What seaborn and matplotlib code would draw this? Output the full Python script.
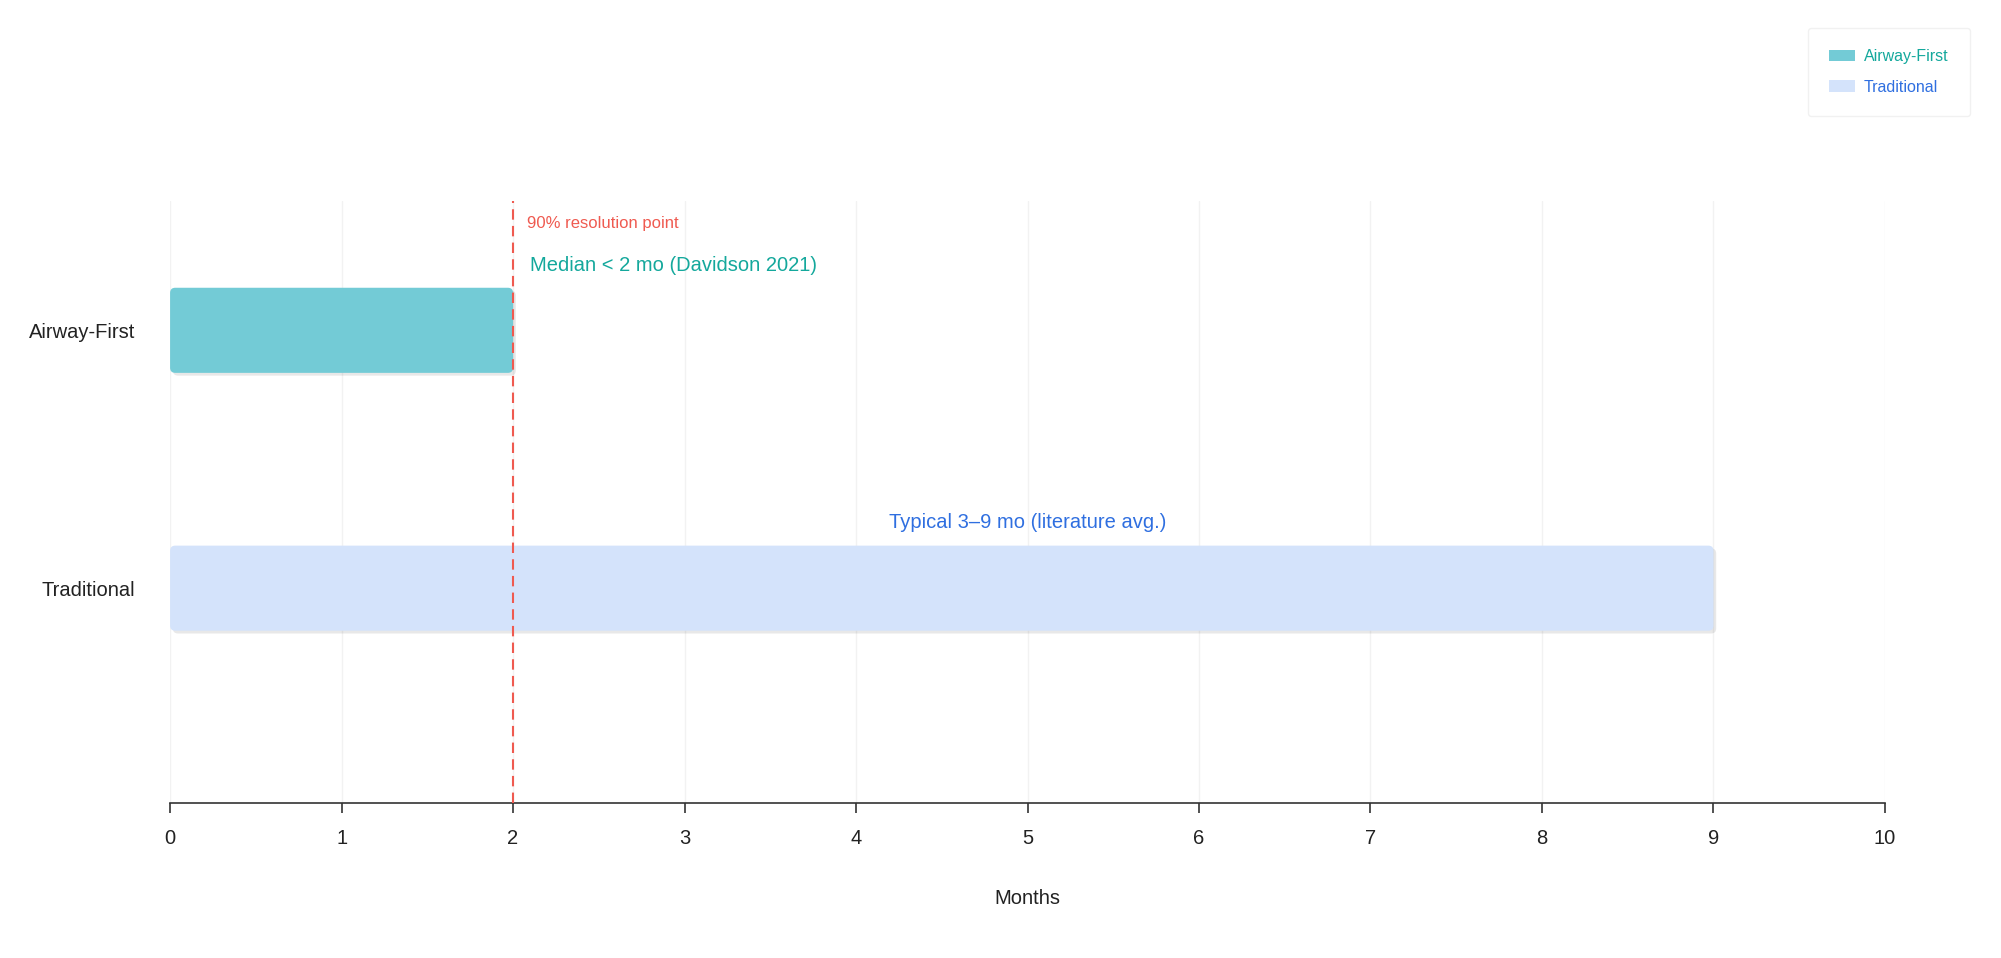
import matplotlib
matplotlib.use("Agg")
import matplotlib.pyplot as plt
import matplotlib.patheffects as pe
from matplotlib.patches import FancyBboxPatch, Patch
import pandas as pd
import seaborn as sns

# Данные
categories = ["Airway-First", "Traditional"]
months = [2, 9]
bar_colors = ["#73cbd6", "#d4e3fb"]
text_colors = ["#14a89c", "#2f6fe0"]
notes = ["Median < 2 mo (Davidson 2021)", "Typical 3\u20139 mo (literature avg.)"]
note_x = [2.1, 5.0]
marker_month = 2
marker_label = "90% resolution point"
x_ticks = list(range(0, 11))

df = pd.DataFrame({"Approach": categories, "Months": months})

sns.set_theme(style="white")
plt.rcParams["font.family"] = ["Liberation Sans", "DejaVu Sans"]

fig = plt.figure(figsize=(20.01, 9.58), dpi=100)
ax = fig.add_axes([0.085, 0.1618, 0.857, 0.628])

sns.barplot(data=df, x="Months", y="Approach", hue="Approach",
            palette=bar_colors, saturation=1, width=0.33, legend=False, ax=ax)

# скруглённые углы и тень
px_x = 0.857 * 2001 / 10
px_y = 258.0
for p in list(ax.patches):
    x0, y0 = p.get_x(), p.get_y()
    w, h = p.get_width(), p.get_height()
    fb = FancyBboxPatch((x0, y0), w, h,
                        boxstyle="round,pad=0,rounding_size=0.03",
                        mutation_aspect=px_x / px_y,
                        facecolor=p.get_facecolor(), edgecolor="none",
                        zorder=2)
    fb.set_path_effects([pe.SimplePatchShadow(offset=(2, -2), alpha=0.09,
                                              shadow_rgbFace="black"),
                         pe.Normal()])
    p.remove()
    ax.add_patch(fb)

ax.set_xlim(0, 10)
ax.set_ylim(1.833, -0.5)
ax.set_xticks(x_ticks)
ax.set_xticklabels([str(t) for t in x_ticks])
ax.grid(axis="x", color="#f2f2f2", linewidth=1)
ax.grid(axis="y", visible=False)
ax.set_axisbelow(True)

for s in ["top", "right", "left"]:
    ax.spines[s].set_visible(False)
ax.spines["bottom"].set_color("#333333")
ax.spines["bottom"].set_linewidth(1.2)

ax.tick_params(axis="x", bottom=True, length=7.5, width=1.2, color="#333333",
               labelsize=14.5, labelcolor="#222222", pad=11)
ax.tick_params(axis="y", left=False, length=0, labelsize=14.5,
               labelcolor="#222222", pad=25)

ax.set_xlabel("Months", fontsize=14.5, color="#222222", labelpad=30)
ax.set_ylabel("")

# линия 90%
ax.axvline(marker_month, color="#ef5a50", linestyle=(0, (5, 3)),
           linewidth=1.5, zorder=3)
ax.text(marker_month + 0.08, -0.415, marker_label, color="#ef5a50",
        fontsize=12, va="center", ha="left")

# подписи
ax.text(note_x[0], -0.25, notes[0], color=text_colors[0], fontsize=14.5,
        va="center", ha="left")
ax.text(note_x[1], 0.745, notes[1], color=text_colors[1], fontsize=14.5,
        va="center", ha="center")

handles = [Patch(facecolor=c, edgecolor="none") for c in bar_colors]
leg = fig.legend(handles, categories, loc="upper right",
                 bbox_to_anchor=(0.9845, 0.971), frameon=True,
                 fontsize=11.5, handlelength=1.6, handleheight=0.7,
                 borderpad=1.35, labelspacing=0.95, handletextpad=0.55,
                 borderaxespad=0)
leg.get_frame().set_edgecolor("#eeeeee")
leg.get_frame().set_linewidth(1)
for t, c in zip(leg.get_texts(), text_colors):
    t.set_color(c)

fig.savefig("out.png", dpi=100, facecolor="white")
